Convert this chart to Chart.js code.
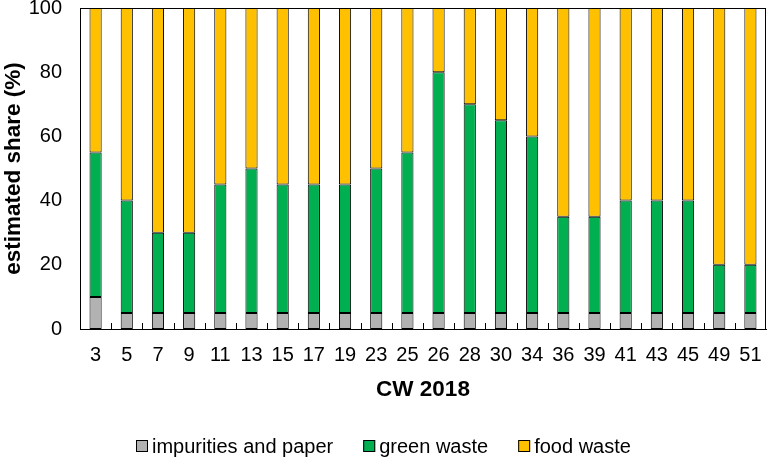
<!DOCTYPE html>
<html>
<head>
<meta charset="utf-8">
<script src="https://cdn.jsdelivr.net/npm/chart.js@4/dist/chart.umd.min.js"></script>
<style>
  html, body { margin: 0; padding: 0; background: #fff; }
  #wrap { width: 767px; height: 457px; position: relative; }
</style>
</head>
<body>
<div id="wrap"><canvas id="wasteChart"></canvas></div>
<script>
// calendar weeks 2018
const weeks = ['3', '5', '7', '9', '11', '13', '15', '17', '19', '23', '25',
               '26', '28', '30', '34', '36', '39', '41', '43', '45', '49', '51'];

// estimated shares (%)
const impurities = [10, 5, 5, 5, 5, 5, 5, 5, 5, 5, 5, 5, 5, 5, 5, 5, 5, 5, 5, 5, 5, 5];
const greenWaste = [45, 35, 25, 25, 40, 45, 40, 40, 40, 45, 50, 75, 65, 60, 55, 30, 30, 35, 35, 35, 15, 15];
const foodWaste  = [45, 60, 70, 70, 55, 50, 55, 55, 55, 50, 45, 20, 30, 35, 40, 65, 65, 60, 60, 60, 80, 80];

const yTicks = [0, 20, 40, 60, 80, 100];

const FONT = 'Arial, "Liberation Sans", sans-serif';

// frame round the plot area + short inward ticks between categories
const frameAndTicks = {
    id: 'frameAndTicks',
    afterDatasetsDraw(chart) {
        const { ctx, chartArea } = chart;
        const xs = chart.scales.x;
        ctx.save();
        ctx.strokeStyle = '#000';
        ctx.lineWidth = 1;
        ctx.strokeRect(chartArea.left + 0.5, chartArea.top + 0.5,
                       chartArea.right - chartArea.left - 1, chartArea.bottom - chartArea.top);
        ctx.beginPath();
        for (let i = 0; i < weeks.length - 1; i++) {
            const x = Math.round((xs.getPixelForValue(i) + xs.getPixelForValue(i + 1)) / 2) + 0.5;
            ctx.moveTo(x, chartArea.bottom);
            ctx.lineTo(x, chartArea.bottom - 6);
        }
        ctx.stroke();
        ctx.restore();
    }
};

// legend drawn below the axis title, small boxes close to the text
const bottomLegend = {
    id: 'bottomLegend',
    afterDraw(chart) {
        const { ctx } = chart;
        const box = 12, gapText = 4, gapItem = 30, yMid = 446;
        ctx.save();
        ctx.font = '20px ' + FONT;
        const items = chart.data.datasets.map(ds => ({
            text: ds.label, color: ds.backgroundColor, w: ctx.measureText(ds.label).width
        }));
        const total = items.reduce((s, it) => s + box + gapText + it.w, 0) + gapItem * (items.length - 1);
        let x = Math.round((chart.width - total) / 2);
        items.forEach(it => {
            ctx.fillStyle = it.color;
            ctx.fillRect(x, yMid - 6, box, box);
            ctx.strokeStyle = '#000';
            ctx.lineWidth = 1;
            ctx.strokeRect(x + 0.5, yMid - 5.5, box - 1, box - 1);
            ctx.fillStyle = '#000';
            ctx.textBaseline = 'middle';
            ctx.textAlign = 'left';
            ctx.fillText(it.text, x + box + gapText, yMid + 1);
            x += box + gapText + it.w + gapItem;
        });
        ctx.restore();
    }
};

const ctx = document.getElementById('wasteChart').getContext('2d');

new Chart(ctx, {
    type: 'bar',
    data: {
        labels: weeks,
        datasets: [
            { label: 'impurities and paper', data: impurities, backgroundColor: '#B2B2B2' },
            { label: 'green waste', data: greenWaste, backgroundColor: '#00B050' },
            { label: 'food waste', data: foodWaste, backgroundColor: '#FFC000' }
        ].map(ds => Object.assign(ds, {
            borderColor: '#000',
            borderWidth: 1,
            borderSkipped: false,
            barPercentage: 0.39,
            categoryPercentage: 1
        }))
    },
    options: {
        responsive: true,
        maintainAspectRatio: false,
        animation: false,
        layout: { padding: { top: 8, right: 1, left: 0, bottom: 50 } },
        plugins: {
            legend: { display: false },
            tooltip: { enabled: false }
        },
        scales: {
            x: {
                stacked: true,
                grid: { display: false, drawTicks: false },
                border: { display: true, color: '#000', width: 1 },
                ticks: { color: '#000', font: { family: FONT, size: 20 }, padding: 14, maxRotation: 0, autoSkip: false },
                title: {
                    display: true, text: 'CW 2018', color: '#000',
                    font: { family: FONT, size: 22.5, weight: 'bold' },
                    padding: { top: 0, bottom: 3.5 }
                },
                afterFit(scale) {
                    scale.height = 78;
                    scale.paddingLeft = 0;
                    scale.paddingRight = 0;
                }
            },
            y: {
                stacked: true,
                min: 0,
                max: 100,
                afterBuildTicks(scale) { scale.ticks = yTicks.map(v => ({ value: v })); },
                grid: { display: false, drawTicks: false },
                border: { display: true, color: '#000', width: 1 },
                ticks: { color: '#000', font: { family: FONT, size: 20 }, padding: 18 },
                title: {
                    display: true, text: 'estimated share (%)', color: '#000',
                    font: { family: FONT, size: 22.5, weight: 'bold' },
                    padding: { top: 0, bottom: 0 }
                },
                afterFit(scale) {
                    scale.width = 80;
                    scale.paddingTop = 0;
                    scale.paddingBottom = 0;
                }
            }
        }
    },
    plugins: [frameAndTicks, bottomLegend]
});
</script>
</body>
</html>
